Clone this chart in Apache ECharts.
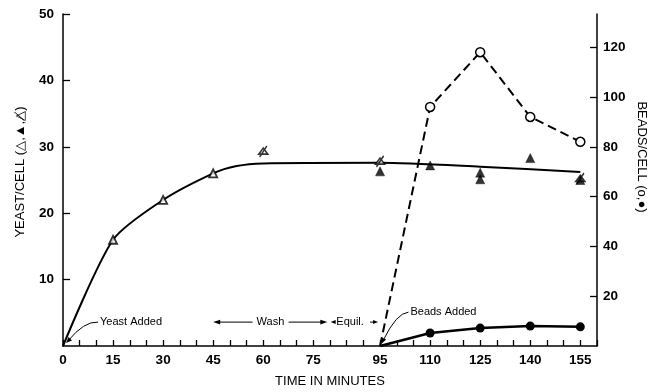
<!DOCTYPE html>
<html><head><meta charset="utf-8">
<script src="https://cdn.jsdelivr.net/npm/echarts@6/dist/echarts.min.js"></script>
<style>html,body{margin:0;padding:0;background:#fff}#c{width:657px;height:392px}</style>
</head><body><div id="c"></div>
<script>
// ---- data ----
const xTickLabels = [0, 15, 30, 45, 60, 75, 95, 110, 125, 140, 155];
const leftTicks = [10, 20, 30, 40, 50];
const rightTicks = [20, 40, 60, 80, 100, 120];
const yeastOpen = [[0, 0], [15, 16], [30, 22], [45, 26]];
const yeastSlashed = [[60, 29.3], [95, 27.8], [155, 25.2]];
const yeastFilled = [[95, 26.3], [110, 27.2], [125, 26.1], [125, 25.1], [140, 28.3], [155, 25.0]];
const yeastCurve = [[0, 0], [15, 16], [30, 22], [45, 26], [52, 27.1], [60, 27.5], [95, 27.6], [125, 27.0], [155, 26.2]];
const beadsOpen = [[95, 0], [110, 96], [125, 118], [140, 92], [155, 82]];
const beadsFilled = [[95, 0], [110, 5.2], [125, 7.2], [140, 8.0], [155, 7.7]];

const FONT = '"Liberation Sans", Arial, sans-serif';
const slashTri = 'path://M5,0 L10,9 L0,9 Z M1,13 L9,-3';
const chart = echarts.init(document.getElementById('c'));

function startNoSymbol(arr) {
  return arr.map((p, i) => i === 0 ? { value: p, symbol: 'none' } : p);
}
const tickFont = { color: '#000', fontFamily: FONT, fontSize: 13.5, fontWeight: 'bold' };

chart.setOption({
  animation: false,
  backgroundColor: '#fff',
  grid: { left: 63, right: 60, top: 14, bottom: 46 },
  xAxis: {
    type: 'value', min: 0, max: 160, interval: 5,
    axisLine: { show: true, lineStyle: { color: '#000', width: 1.5 } },
    axisTick: { show: true, inside: true, length: 6, lineStyle: { color: '#000', width: 1.3 } },
    axisLabel: Object.assign({ customValues: xTickLabels, margin: 7 }, tickFont),
    splitLine: { show: false }
  },
  yAxis: [{
    type: 'value', min: 0, max: 50, interval: 10,
    axisLine: { show: true, lineStyle: { color: '#000', width: 1.5 } },
    axisTick: { show: true, inside: true, length: 7, lineStyle: { color: '#000', width: 1.3 }, customValues: leftTicks },
    axisLabel: Object.assign({ customValues: leftTicks, margin: 9 }, tickFont),
    splitLine: { show: false }
  }, {
    type: 'value', min: 0, max: 400 / 3, interval: 20, position: 'right',
    axisLine: { show: true, lineStyle: { color: '#000', width: 1.5 } },
    axisTick: { show: true, inside: true, length: 7, lineStyle: { color: '#000', width: 1.3 }, customValues: rightTicks },
    axisLabel: Object.assign({ customValues: rightTicks, margin: 6 }, tickFont),
    splitLine: { show: false }
  }],
  series: [
    { type: 'line', data: yeastCurve, yAxisIndex: 0, smooth: 0.25, showSymbol: false, symbol: 'none',
      lineStyle: { color: '#000', width: 2 }, z: 2 },
    { type: 'scatter', data: yeastOpen.slice(1), yAxisIndex: 0, symbol: 'triangle', symbolSize: 8,
      itemStyle: { color: '#fff', borderColor: '#000', borderWidth: 1.8 }, z: 4 },
    { type: 'scatter', data: yeastSlashed, yAxisIndex: 0, symbol: slashTri, symbolSize: [9, 11],
      itemStyle: { color: '#fff', borderColor: '#000', borderWidth: 1.6 }, z: 4 },
    { type: 'scatter', data: yeastFilled, yAxisIndex: 0, symbol: 'triangle', symbolSize: 9,
      itemStyle: { color: '#000', borderColor: '#000', borderWidth: 0.5 }, z: 4 },
    { type: 'line', data: startNoSymbol(beadsOpen), yAxisIndex: 1, symbol: 'circle', symbolSize: 9,
      lineStyle: { color: '#000', width: 2, type: [9, 5] },
      itemStyle: { color: '#fff', borderColor: '#000', borderWidth: 1.5 }, z: 3 },
    { type: 'line', data: startNoSymbol(beadsFilled), yAxisIndex: 1, symbol: 'circle', symbolSize: 9,
      lineStyle: { color: '#000', width: 2.5 },
      itemStyle: { color: '#000' }, z: 3 }
  ]
});

// ---- annotations ----
function px(x, y) { return chart.convertToPixel({ xAxisIndex: 0, yAxisIndex: 0 }, [x, y]); }
const g = [];
function txt(x, y, s, size) {
  g.push({ type: 'text', x: x, y: y, style: { text: s, fill: '#000', font: (size || 11) + 'px ' + FONT, textAlign: 'left', textVerticalAlign: 'middle' } });
}
function line(x1, y1, x2, y2, w) {
  g.push({ type: 'line', shape: { x1, y1, x2, y2 }, style: { stroke: '#000', lineWidth: w || 1 } });
}
function head(tx, ty, fx, fy, len, wid) {
  const dx = tx - fx, dy = ty - fy, L = Math.hypot(dx, dy);
  const ux = dx / L, uy = dy / L, bx = tx - ux * len, by = ty - uy * len;
  g.push({ type: 'polygon', shape: { points: [[tx, ty], [bx - uy * wid, by + ux * wid], [bx + uy * wid, by - ux * wid]] }, style: { fill: '#000' } });
}
const yA = 3.6;
const ay = px(0, yA)[1];
// Yeast Added
const ya = px(11.1, yA);
txt(ya[0], ay, 'Yeast Added', 11);
const o = px(0.6, 0.3);
g.push({ type: 'bezierCurve', shape: { x1: ya[0] - 2, y1: ay, x2: o[0] + 3, y2: o[1] - 3, cpx1: ya[0] - 16, cpy1: ay - 1 }, style: { stroke: '#000', lineWidth: 1, fill: null } });
head(o[0] + 1, o[1] - 1, o[0] + 6, o[1] - 6, 6, 2.5);
// Wash
const w0 = px(45, yA)[0], wt = px(58, yA)[0], w1 = px(79.2, yA)[0];
head(w0, ay, w0 + 10, ay, 7, 2.3);
line(w0 + 5, ay, wt - 4, ay, 1);
txt(wt, ay, 'Wash', 11);
line(wt + 32, ay, w1 - 5, ay, 1);
head(w1, ay, w1 - 10, ay, 7, 2.3);
// Equil.
const e0 = px(80.2, yA)[0], et = px(81.3, yA)[0], e1 = px(94.4, yA)[0];
head(e0, ay, e0 + 10, ay, 5, 2);
txt(et + 2, ay, 'Equil.', 11);
line(e1 - 8, ay, e1 - 3, ay, 1);
head(e1, ay, e1 - 10, ay, 5, 2);
// Beads Added
const ba = px(104.1, 5.1);
txt(ba[0], ba[1], 'Beads Added', 11);
const b0 = px(95.4, 0.3);
g.push({ type: 'bezierCurve', shape: { x1: ba[0] - 2, y1: ba[1], x2: b0[0] + 2, y2: b0[1] - 4, cpx1: ba[0] - 14, cpy1: ba[1] + 1 }, style: { stroke: '#000', lineWidth: 1, fill: null } });
head(b0[0], b0[1], b0[0] + 3, b0[1] - 7, 6, 2.5);
// axis titles
g.push({ type: 'text', x: 20, y: 172, rotation: Math.PI / 2, style: { text: 'YEAST/CELL (△,▲,△̸)', fill: '#000', font: '13px ' + FONT, textAlign: 'center', textVerticalAlign: 'middle' } });
g.push({ type: 'text', x: 642, y: 157, rotation: -Math.PI / 2, style: { text: 'BEADS/CELL (o,●)', fill: '#000', font: '13px ' + FONT, textAlign: 'center', textVerticalAlign: 'middle' } });
g.push({ type: 'text', x: 330, y: 381, style: { text: 'TIME IN MINUTES', fill: '#000', font: '13px ' + FONT, textAlign: 'center', textVerticalAlign: 'middle' } });
chart.setOption({ graphic: g });
</script></body></html>
